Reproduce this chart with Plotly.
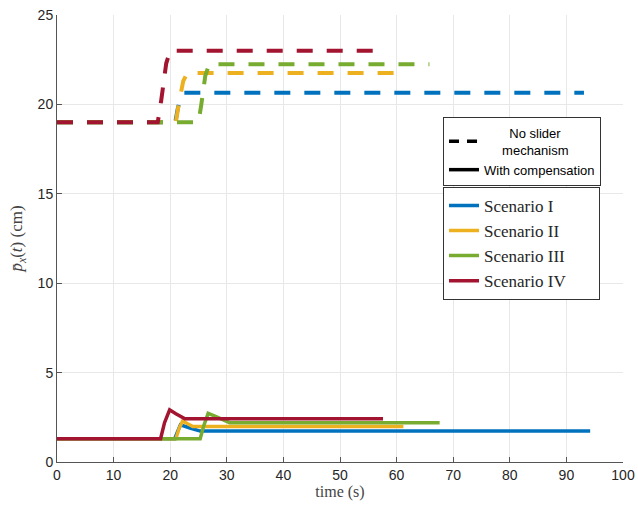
import plotly.graph_objects as go

# ---- data ----
scenarios = ["Scenario I", "Scenario II", "Scenario III", "Scenario IV"]
colors = ["#0072BD", "#EDB120", "#77AC30", "#A2142F"]

# No slider mechanism (dashed)
t_ns_I = [0, 20.9, 21.3, 21.8, 22.4, 93.1]
y_ns_I = [19.0, 19.0, 19.7, 20.4, 20.65, 20.65]
t_ns_II = [0, 21.0, 21.5, 22.3, 23.0, 61.0]
y_ns_II = [19.0, 19.0, 20.0, 21.3, 21.75, 21.75]
t_ns_III = [0, 25.0, 25.5, 26.2, 26.9, 65.8]
y_ns_III = [19.0, 19.0, 20.0, 21.6, 22.25, 22.25]
t_ns_IV = [0, 17.8, 18.4, 19.3, 20.0, 57.5]
y_ns_IV = [19.0, 19.0, 20.2, 22.3, 23.0, 23.0]

# With compensation (solid)
t_wc_I = [0, 20.8, 21.3, 21.8, 23.5, 25.3, 94.2]
y_wc_I = [1.3, 1.3, 1.7, 2.08, 1.9, 1.73, 1.73]
t_wc_II = [0, 21.0, 21.6, 22.2, 23.0, 24.0, 61.2]
y_wc_II = [1.3, 1.3, 1.9, 2.3, 2.15, 1.98, 1.98]
t_wc_III = [0, 25.3, 25.9, 26.7, 28.0, 30.5, 67.6]
y_wc_III = [1.3, 1.3, 2.0, 2.72, 2.55, 2.2, 2.2]
t_wc_IV = [0, 18.3, 19.0, 19.9, 21.0, 22.6, 57.6]
y_wc_IV = [1.3, 1.3, 2.2, 2.92, 2.7, 2.42, 2.42]

x_ticks = [0, 10, 20, 30, 40, 50, 60, 70, 80, 90, 100]
y_ticks = [0, 5, 10, 15, 20, 25]

ns_t = [t_ns_I, t_ns_II, t_ns_III, t_ns_IV]
ns_y = [y_ns_I, y_ns_II, y_ns_III, y_ns_IV]
wc_t = [t_wc_I, t_wc_II, t_wc_III, t_wc_IV]
wc_y = [y_wc_I, y_wc_II, y_wc_III, y_wc_IV]

NB = "\u00a0"
pad = [9, 8, 6, 6]

fig = go.Figure()

for i in range(4):
    fig.add_trace(go.Scatter(
        x=ns_t[i], y=ns_y[i], mode="lines", showlegend=False,
        line=dict(color=colors[i], width=4, dash="16px,14px"),
        hoverinfo="skip"))

for i in range(4):
    fig.add_trace(go.Scatter(
        x=wc_t[i], y=wc_y[i], mode="lines", name=scenarios[i] + NB * pad[i],
        legend="legend2",
        line=dict(color=colors[i], width=3.5)))

# style legend
fig.add_trace(go.Scatter(
    x=[None], y=[None], mode="lines",
    name=NB * 7 + "No slider<br>" + NB * 5 + "mechanism",
    legend="legend", line=dict(color="black", width=3.5, dash="10px,8px")))
fig.add_trace(go.Scatter(
    x=[None], y=[None], mode="lines", name="With compensation",
    legend="legend", line=dict(color="black", width=3.5)))

axis_font = dict(family="Liberation Sans, Arial, sans-serif", size=14, color="#262626")
serif = "Liberation Serif, Times New Roman, serif"

fig.update_layout(
    width=638, height=507,
    margin=dict(l=57, r=15, t=15, b=45),
    plot_bgcolor="white", paper_bgcolor="white",
    xaxis=dict(
        range=[0, 100], tickvals=x_ticks, ticks="inside", ticklen=5,
        tickcolor="#555", showline=True, linecolor="#555", linewidth=1,
        showgrid=True, gridcolor="#e8e8e8", gridwidth=1, zeroline=False,
        tickfont=axis_font, automargin=False,
        title=dict(text="time (s)", standoff=4,
                   font=dict(family=serif, size=16, color="#444"))),
    yaxis=dict(
        range=[0, 25], tickvals=y_ticks, ticks="inside", ticklen=5,
        tickcolor="#555", showline=True, linecolor="#555", linewidth=1,
        showgrid=True, gridcolor="#e8e8e8", gridwidth=1, zeroline=False,
        tickfont=axis_font, automargin=False,
        title=dict(text="<i>p\u0304</i><sub><i>x</i></sub>(<i>t</i>) (cm)", standoff=10,
                   font=dict(family=serif, size=17, color="#444"))),
    legend=dict(
        x=0.682, y=0.772, xanchor="left", yanchor="top",
        bgcolor="white", bordercolor="#333", borderwidth=1,
        font=dict(family="Liberation Sans, Arial, sans-serif", size=13, color="black"),
        itemwidth=30, tracegroupgap=0),
    legend2=dict(
        x=0.682, y=0.6155, xanchor="left", yanchor="top",
        bgcolor="white", bordercolor="#333", borderwidth=1,
        font=dict(family=serif, size=17, color="#262626"),
        itemwidth=30, tracegroupgap=0),
)

fig.write_html("out.html", config={"displayModeBar": False},
               post_script="document.body.style.margin='0';")
